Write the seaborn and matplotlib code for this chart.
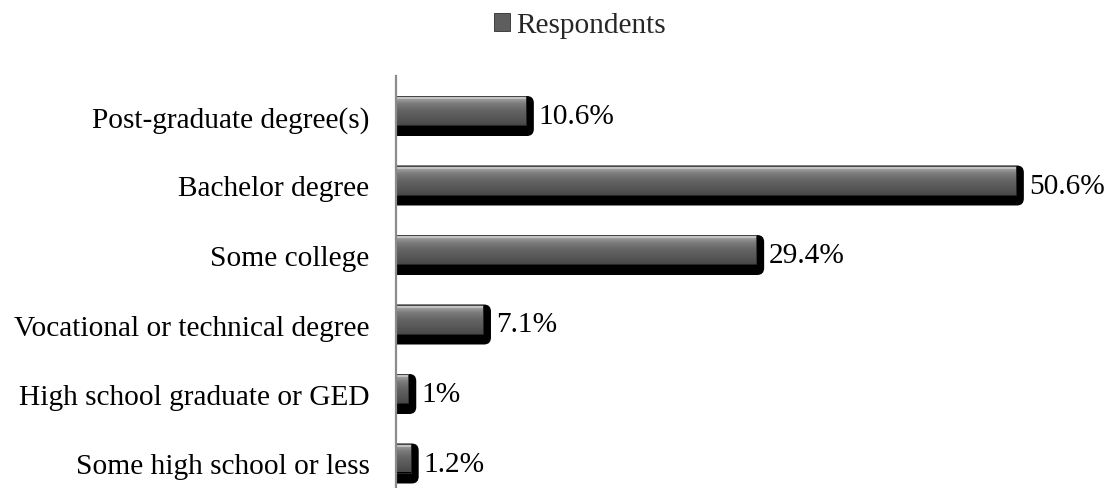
import numpy as np
import pandas as pd
import matplotlib
matplotlib.use("Agg")
import matplotlib.pyplot as plt
import seaborn as sns
from matplotlib.patches import FancyBboxPatch, Rectangle
from matplotlib.colors import LinearSegmentedColormap

categories = [
    "Post-graduate degree(s)",
    "Bachelor degree",
    "Some college",
    "Vocational or technical degree",
    "High school graduate or GED",
    "Some high school or less",
]
values = [10.6, 50.6, 29.4, 7.1, 1.0, 1.2]
value_labels = ["10.6%", "50.6%", "29.4%", "7.1%", "1%", "1.2%"]
series_name = "Respondents"

df = pd.DataFrame({"category": categories, "value": values})

sns.set_theme(style="white")
plt.rcParams["font.family"] = ["Liberation Serif", "DejaVu Serif"]

FS = 21.2

W, H = 1109, 489
fig = plt.figure(figsize=(W / 100, H / 100), dpi=100)
ax_left, ax_top = 396, 77
ax = fig.add_axes([ax_left / W, 0, (W - ax_left) / W, (H - ax_top) / H])

px_per_unit_x = 12.25
px_per_cat = 69.5
xmax = (W - ax_left) / px_per_unit_x
ytop = -40 / px_per_cat
ybot = ytop + (H - ax_top) / px_per_cat

# shadow bars (black, drawn first so the face sits on top)
sns.barplot(data=df, x="value", y="category", orient="h", color="black",
            width=40 / px_per_cat, saturation=1, ax=ax, zorder=2)
shadow_rects = list(ax.patches)
# face bars
sns.barplot(data=df, x="value", y="category", orient="h", color="#5e5e5e",
            width=29 / px_per_cat, saturation=1, ax=ax, zorder=3)
face_rects = list(ax.patches)[len(shadow_rects):]

ax.set_xlim(0, xmax)
ax.set_ylim(ybot, ytop)

dx = 8 / px_per_unit_x
dy_face = -5.5 / px_per_cat

# round the right end of each shadow
for p in shadow_rects:
    x, y, w, h = p.get_x(), p.get_y(), p.get_width(), p.get_height()
    p.set_visible(False)
    r = 7 / px_per_unit_x
    fb = FancyBboxPatch((x - r, y), w + dx + r, h,
                        boxstyle=f"round,pad=0,rounding_size={r}",
                        mutation_aspect=px_per_unit_x / px_per_cat,
                        facecolor="black", edgecolor="none", zorder=2)
    ax.add_patch(fb)

# bevelled gradient on each face
grad = LinearSegmentedColormap.from_list(
    "bevel", ["#b4b4b4", "#7c7c7c", "#646464", "#585858", "#484848"])
for p in face_rects:
    p.set_y(p.get_y() + dy_face)
    x, y, w, h = p.get_x(), p.get_y(), p.get_width(), p.get_height()
    img = np.linspace(0, 1, 64).reshape(-1, 1)
    im = ax.imshow(img, cmap=grad, aspect="auto", extent=(x, x + w, y + h, y),
                   zorder=3, interpolation="bilinear")
    im.set_clip_path(p)
    p.set_facecolor("none")
    p.set_edgecolor("#2e2e2e")
    p.set_linewidth(0.6)
    p.set_zorder(4)
    # lighter top edge
    ax.add_patch(Rectangle((x, y), w, h * 0.12, facecolor="#cfcfcf",
                           edgecolor="none", alpha=0.7, zorder=3.5))

# value labels
for p, lab in zip(face_rects, value_labels):
    x_end = p.get_x() + p.get_width()
    yc = p.get_y() + p.get_height() / 2 - dy_face
    ax.text(x_end + dx + 5 / px_per_unit_x, yc, lab, va="center", ha="left",
            fontsize=FS, color="black", zorder=5)

ax.set_xlabel("")
ax.set_ylabel("")
ax.set_xticks([])
ax.tick_params(axis="y", length=0, pad=19, labelsize=FS, labelcolor="black")
for s in ["top", "right", "bottom"]:
    ax.spines[s].set_visible(False)
ax.spines["left"].set_color("#8c8c8c")
ax.spines["left"].set_linewidth(1.6)
ax.spines["left"].set_zorder(6)

# legend
handle = Rectangle((0, 0), 1, 1, facecolor="#5e5e5e", edgecolor="#2e2e2e",
                   linewidth=0.6)
fig.legend([handle], [series_name], loc="upper center",
           bbox_to_anchor=(0.5 + 25 / W, 1.0), frameon=False, fontsize=FS,
           handlelength=0.55, handleheight=0.55, handletextpad=0.2,
           borderaxespad=0.05)

fig.savefig("out.png", dpi=100)
